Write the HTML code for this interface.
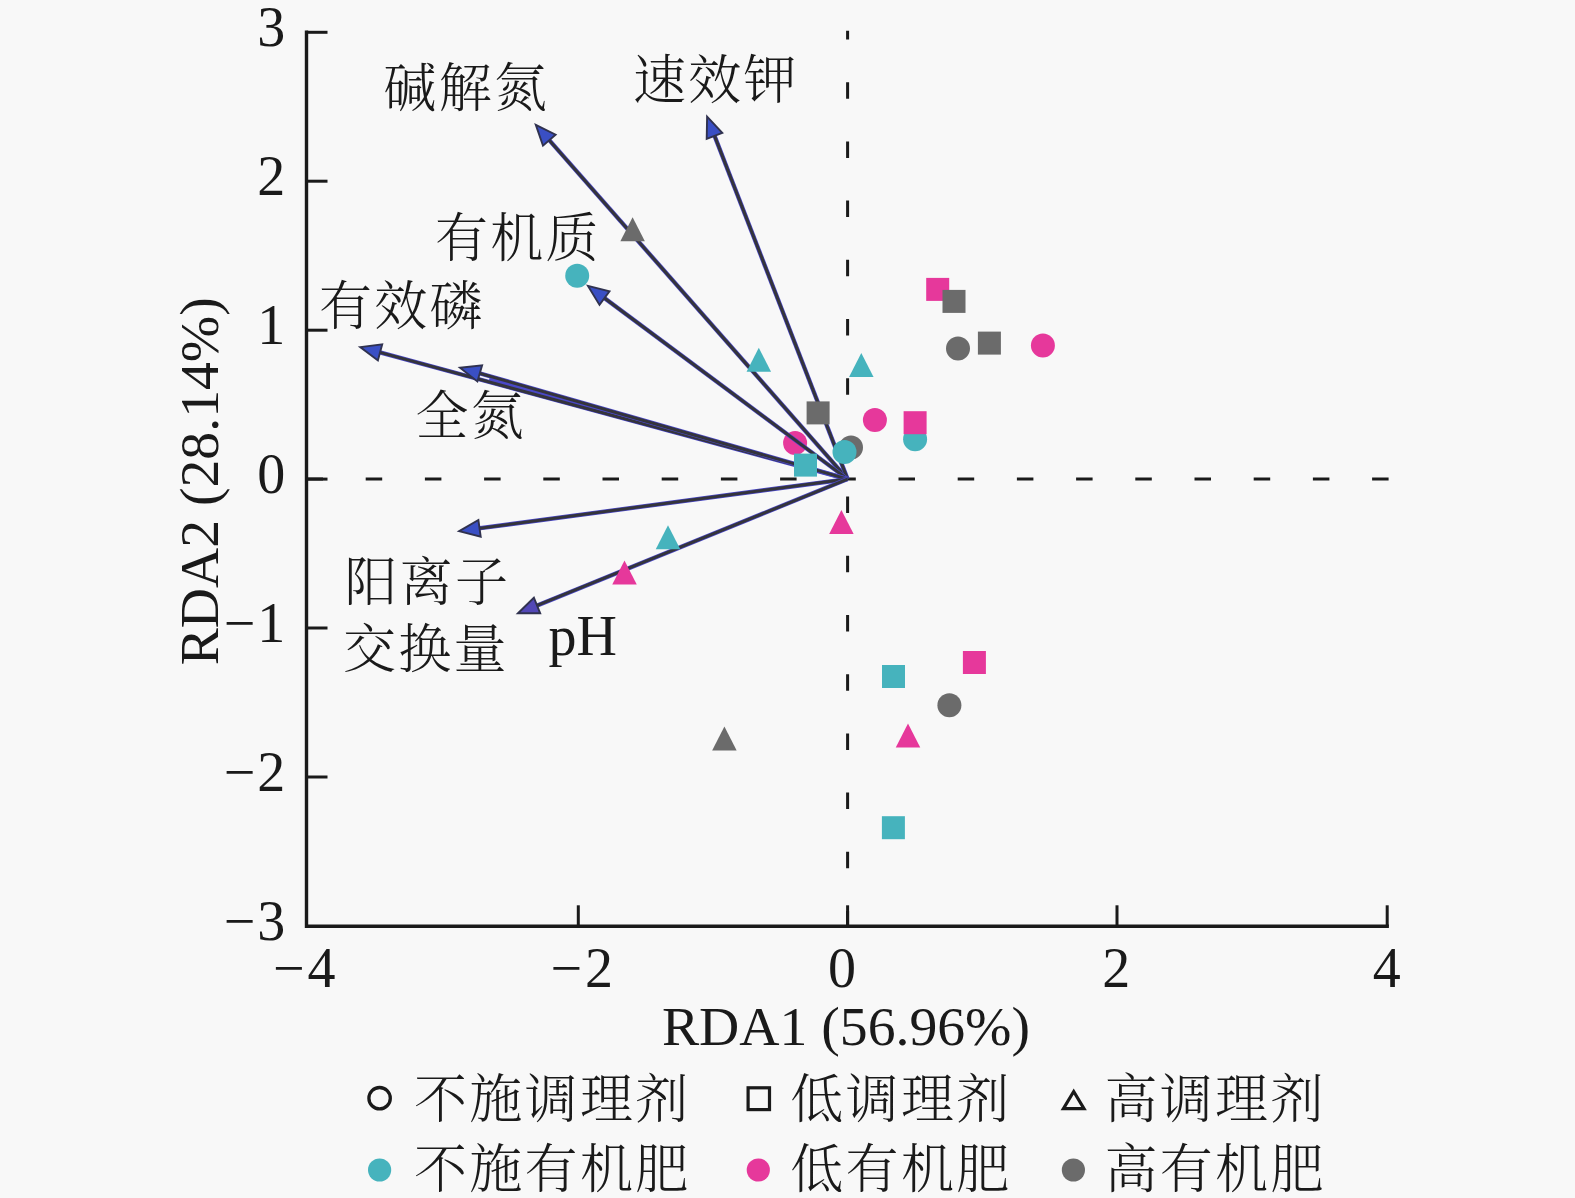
<!DOCTYPE html>
<html lang="zh-CN"><head><meta charset="utf-8"><title>RDA</title>
<style>
html,body{margin:0;padding:0;background:#f8f8f8;}
body{width:1575px;height:1198px;overflow:hidden;}
svg{display:block;}
text{fill:#1a1a1a;}
.lat{font-family:"Liberation Serif","Noto Serif CJK SC",serif;font-size:56px;}
.ttl{font-size:55.7px;}
.cjk{font-family:"Liberation Serif","Noto Serif CJK SC",serif;font-size:53px;font-weight:300;letter-spacing:2.3px;}
</style></head><body>
<svg width="1575" height="1198" viewBox="0 0 1575 1198">
<rect width="1575" height="1198" fill="#f8f8f8"/>

<g stroke="#1a1a1a" stroke-width="3" fill="none">
<line x1="306.5" y1="479.1" x2="1389.2" y2="479.1" stroke-dasharray="16.5 42.7"/>
<line x1="847.6" y1="926.3" x2="847.6" y2="30.700000000000003" stroke-dasharray="16.5 42.7" stroke-dashoffset="1.2"/>
</g>
<g stroke="#1a1a1a" stroke-width="3.4" fill="none" stroke-linecap="butt">
<path d="M306.5 30.500000000000004 V926.3 H1388.9"/>
<line x1="306.5" y1="32.3" x2="327.5" y2="32.3" stroke-width="3"/>
<line x1="306.5" y1="181.2" x2="327.5" y2="181.2" stroke-width="3"/>
<line x1="306.5" y1="330.2" x2="327.5" y2="330.2" stroke-width="3"/>
<line x1="306.5" y1="479.1" x2="327.5" y2="479.1" stroke-width="3"/>
<line x1="306.5" y1="628.0" x2="327.5" y2="628.0" stroke-width="3"/>
<line x1="306.5" y1="777.0" x2="327.5" y2="777.0" stroke-width="3"/>
<line x1="578.3" y1="926.3" x2="578.3" y2="905.3" stroke-width="3"/>
<line x1="847.6" y1="926.3" x2="847.6" y2="905.3" stroke-width="3"/>
<line x1="1117.0" y1="926.3" x2="1117.0" y2="905.3" stroke-width="3"/>
<line x1="1387.2" y1="926.3" x2="1387.2" y2="905.3" stroke-width="3"/>
</g>
<text class="lat" x="285.3" y="46.3" text-anchor="end">3</text>
<text class="lat" x="285.3" y="195.2" text-anchor="end">2</text>
<text class="lat" x="285.3" y="344.2" text-anchor="end">1</text>
<text class="lat" x="285.3" y="493.1" text-anchor="end">0</text>
<text class="lat" x="285.3" y="642.0" text-anchor="end">−<tspan dx="2">1</tspan></text>
<text class="lat" x="285.3" y="791.0" text-anchor="end">−<tspan dx="2">2</tspan></text>
<text class="lat" x="285.3" y="940.0" text-anchor="end">−<tspan dx="2">3</tspan></text>
<text class="lat" x="335.6" y="986.5" text-anchor="end">−<tspan dx="3">4</tspan></text>
<text class="lat" x="613.0" y="986.5" text-anchor="end">−<tspan dx="3">2</tspan></text>
<text class="lat" x="842.0" y="986.5" text-anchor="middle">0</text>
<text class="lat" x="1116.3" y="986.5" text-anchor="middle">2</text>
<text class="lat" x="1386.8" y="986.5" text-anchor="middle">4</text>
<text class="lat ttl" x="846" y="1045.3" text-anchor="middle">RDA1 (56.96%)</text>
<text class="lat ttl" transform="translate(218.3 481.3) rotate(-90)" text-anchor="middle">RDA2 (28.14%)</text>
<circle cx="795.1" cy="443.1" r="12" fill="#e6389b"/>
<polygon points="847.6,479.1 488.5,381.8 490.1,376.3" fill="#4a48c8"/>
<line x1="847.6" y1="479.1" x2="547.3" y2="137.9" stroke="#4a48c8" stroke-width="4.3"/>
<line x1="847.6" y1="479.1" x2="547.3" y2="137.9" stroke="#34343c" stroke-width="3"/>
<line x1="847.6" y1="479.1" x2="713.4" y2="132.9" stroke="#4a48c8" stroke-width="4.3"/>
<line x1="847.6" y1="479.1" x2="713.4" y2="132.9" stroke="#34343c" stroke-width="3"/>
<line x1="847.6" y1="479.1" x2="602.0" y2="296.3" stroke="#4a48c8" stroke-width="4.3"/>
<line x1="847.6" y1="479.1" x2="602.0" y2="296.3" stroke="#34343c" stroke-width="3"/>
<line x1="847.6" y1="479.1" x2="377.1" y2="351.6" stroke="#4a48c8" stroke-width="4.3"/>
<line x1="847.6" y1="479.1" x2="377.1" y2="351.6" stroke="#34343c" stroke-width="3"/>
<line x1="847.6" y1="479.1" x2="476.8" y2="372.5" stroke="#4a48c8" stroke-width="4.3"/>
<line x1="847.6" y1="479.1" x2="476.8" y2="372.5" stroke="#34343c" stroke-width="3"/>
<line x1="847.6" y1="479.1" x2="476.5" y2="528.7" stroke="#4a48c8" stroke-width="4.3"/>
<line x1="847.6" y1="479.1" x2="476.5" y2="528.7" stroke="#34343c" stroke-width="3"/>
<line x1="847.6" y1="479.1" x2="534.2" y2="606.7" stroke="#4a48c8" stroke-width="4.3"/>
<line x1="847.6" y1="479.1" x2="534.2" y2="606.7" stroke="#34343c" stroke-width="3"/>
<circle cx="577.2" cy="275.7" r="12" fill="#46b3bd"/>
<polygon points="632.6,217.2 644.85,241.2 620.35,241.2" fill="#6b6b6b"/>
<polygon points="758.8,347.8 771.05,371.8 746.55,371.8" fill="#46b3bd"/>
<polygon points="861.3,353.0 873.55,377.0 849.05,377.0" fill="#46b3bd"/>
<rect x="806.6" y="401.4" width="23" height="23" fill="#6b6b6b"/>
<rect x="794.0" y="453.6" width="23" height="23" fill="#46b3bd"/>
<circle cx="851" cy="447.6" r="12" fill="#6b6b6b"/>
<circle cx="844.5" cy="452" r="12" fill="#46b3bd"/>
<circle cx="874.9" cy="420" r="12" fill="#e6389b"/>
<circle cx="915.1" cy="439.2" r="12" fill="#46b3bd"/>
<rect x="903.6" y="411.2" width="23" height="23" fill="#e6389b"/>
<rect x="926.2" y="277.9" width="23" height="23" fill="#e6389b"/>
<rect x="942.5" y="289.9" width="23" height="23" fill="#6b6b6b"/>
<circle cx="958" cy="348.6" r="12" fill="#6b6b6b"/>
<rect x="977.9" y="331.6" width="23" height="23" fill="#6b6b6b"/>
<circle cx="1042.9" cy="345.4" r="12" fill="#e6389b"/>
<polygon points="841.4,510.0 853.65,534.0 829.15,534.0" fill="#e6389b"/>
<polygon points="668,525.2 680.25,549.2 655.75,549.2" fill="#46b3bd"/>
<polygon points="624.5,560.4 636.75,584.4 612.25,584.4" fill="#e6389b"/>
<polygon points="724.4,726.5 736.65,750.5 712.15,750.5" fill="#6b6b6b"/>
<rect x="882.0" y="665.0" width="23" height="23" fill="#46b3bd"/>
<rect x="962.9" y="651.0" width="23" height="23" fill="#e6389b"/>
<circle cx="949.4" cy="705.3" r="12" fill="#6b6b6b"/>
<polygon points="908,723.4 920.25,747.4 895.75,747.4" fill="#e6389b"/>
<rect x="881.9" y="816.2" width="23" height="23" fill="#46b3bd"/>
<polygon points="535.8,124.8 555.6,134.7 543.0,145.7" fill="#3a4fc4" stroke="#30324f" stroke-width="1.9" stroke-linejoin="miter" stroke-miterlimit="10"/>
<polygon points="707.1,116.6 722.3,132.8 706.7,138.8" fill="#3a4fc4" stroke="#30324f" stroke-width="1.9" stroke-linejoin="miter" stroke-miterlimit="10"/>
<polygon points="588.0,285.9 609.5,291.4 599.5,304.9" fill="#3a4fc4" stroke="#30324f" stroke-width="1.9" stroke-linejoin="miter" stroke-miterlimit="10"/>
<polygon points="360.2,347.1 382.2,344.3 377.9,360.5" fill="#3a4fc4" stroke="#30324f" stroke-width="1.9" stroke-linejoin="miter" stroke-miterlimit="10"/>
<polygon points="460.0,367.7 482.1,365.3 477.4,381.4" fill="#3a4fc4" stroke="#30324f" stroke-width="1.9" stroke-linejoin="miter" stroke-miterlimit="10"/>
<polygon points="459.2,531.1 478.4,520.0 480.7,536.7" fill="#3a4fc4" stroke="#30324f" stroke-width="1.9" stroke-linejoin="miter" stroke-miterlimit="10"/>
<polygon points="518.0,613.3 533.9,597.7 540.2,613.3" fill="#5247b6" stroke="#30324f" stroke-width="1.9" stroke-linejoin="miter" stroke-miterlimit="10"/>
<text class="cjk" x="383.5" y="107.3" text-anchor="start">碱解氮</text>
<text class="cjk" x="633" y="98.5" text-anchor="start">速效钾</text>
<text class="cjk" x="435" y="257.3" text-anchor="start">有机质</text>
<text class="cjk" x="319" y="325.3" text-anchor="start">有效磷</text>
<text class="cjk" x="415.5" y="435.3" text-anchor="start">全氮</text>
<text class="cjk" x="344.5" y="600.7" text-anchor="start">阳离子</text>
<text class="cjk" x="343" y="668" text-anchor="start">交换量</text>
<text class="lat" x="548.5" y="655.3" text-anchor="start">pH</text>
<circle cx="379.6" cy="1098.2" r="10.7" fill="none" stroke="#1a1a1a" stroke-width="3.3"/>
<text class="cjk" x="414.0" y="1118" text-anchor="start">不施调理剂</text>
<rect x="748.1" y="1087.8" width="21.4" height="21.8" fill="none" stroke="#1a1a1a" stroke-width="3.2"/>
<text class="cjk" x="790.3" y="1118" text-anchor="start">低调理剂</text>
<polygon points="1073.7,1091.5 1084,1108.7 1063.4,1108.7" fill="none" stroke="#1a1a1a" stroke-width="3.2"/>
<text class="cjk" x="1104.5" y="1118" text-anchor="start">高调理剂</text>
<circle cx="379.6" cy="1170" r="11.6" fill="#46b3bd"/>
<text class="cjk" x="414.0" y="1188" text-anchor="start">不施有机肥</text>
<circle cx="758.3" cy="1170" r="11.6" fill="#e6389b"/>
<text class="cjk" x="790.3" y="1188" text-anchor="start">低有机肥</text>
<circle cx="1073.4" cy="1170" r="11.6" fill="#6b6b6b"/>
<text class="cjk" x="1104.5" y="1188" text-anchor="start">高有机肥</text>
</svg></body></html>
